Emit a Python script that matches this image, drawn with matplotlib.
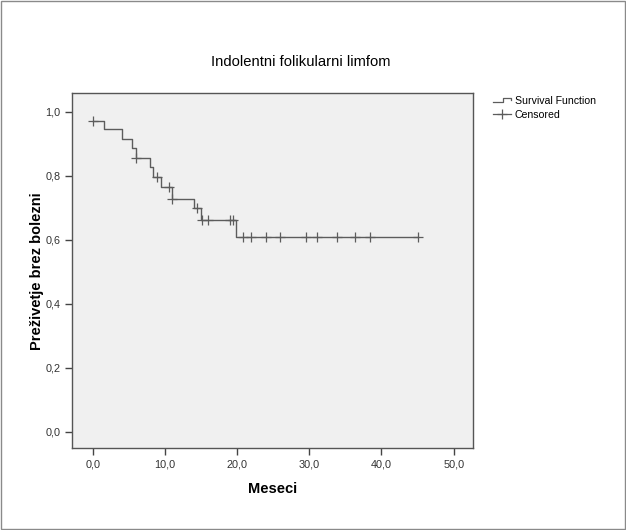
import numpy as np
import matplotlib.pyplot as plt
from matplotlib.lines import Line2D
from matplotlib.legend_handler import HandlerBase
from matplotlib.patches import Rectangle

plt.rcParams['font.family'] = ['Liberation Sans', 'DejaVu Sans']

# Kaplan-Meier step function
event_times = [0.0, 1.5, 4.0, 5.4, 6.0, 7.9, 8.4, 9.5, 11.0, 14.0, 15.0, 19.9, 45.0]
event_surv = [0.972, 0.945, 0.916, 0.886, 0.856, 0.826, 0.797, 0.764, 0.729, 0.698, 0.662, 0.609, 0.609]

# censored cases
censor_times = [0.0, 6.0, 8.9, 10.6, 11.0, 14.5, 15.1, 15.9, 19.0, 19.5,
                20.8, 21.9, 24.0, 25.9, 29.5, 31.0, 33.9, 36.4, 38.4, 45.0]

xticks = [0, 10, 20, 30, 40, 50]
xticklabels = ['0,0', '10,0', '20,0', '30,0', '40,0', '50,0']
yticks = [0.0, 0.2, 0.4, 0.6, 0.8, 1.0]
yticklabels = ['0,0', '0,2', '0,4', '0,6', '0,8', '1,0']

line_col = '#5c5c5c'

# level of the curve at each censored time (after any drop at that time)
idx = np.searchsorted(event_times, censor_times, side='right') - 1
censor_surv = np.array(event_surv)[idx]


class StepHandler(HandlerBase):
    def create_artists(self, legend, orig_handle, xdescent, ydescent,
                       width, height, fontsize, trans):
        x0 = -xdescent
        y0 = -ydescent
        xs = [x0, x0 + 0.55 * width, x0 + 0.55 * width, x0 + width, x0 + width]
        ys = [y0 + 0.25 * height, y0 + 0.25 * height, y0 + 0.85 * height,
              y0 + 0.85 * height, y0 + 0.6 * height]
        ln = Line2D(xs, ys, color=orig_handle.get_color(), lw=0.9)
        ln.set_transform(trans)
        return [ln]


fig = plt.figure(figsize=(6.26, 5.30), dpi=100)
fig.patches.append(Rectangle((0.001, 0.001), 0.997, 0.997, transform=fig.transFigure,
                             fill=False, edgecolor='#8a8a8a', lw=1.0))

ax = fig.add_axes([0.1155, 0.1547, 0.640, 0.669])
ax.set_facecolor('#f0f0f0')

ax.step(event_times, event_surv, where='post', color=line_col, lw=1.0)
ax.plot(censor_times, censor_surv, ls='none', marker='+', ms=7, mew=0.9, color=line_col)

ax.set_xlim(-2.83, 52.67)
ax.set_ylim(-0.051, 1.0575)
ax.set_xticks(xticks)
ax.set_xticklabels(xticklabels)
ax.set_yticks(yticks)
ax.set_yticklabels(yticklabels)
ax.tick_params(direction='out', length=5, width=1, colors='#444444',
               labelsize=7.8, labelcolor='#333333')
for s in ax.spines.values():
    s.set_color('#555555')
    s.set_linewidth(1.0)

ax.set_xlabel('Meseci', fontsize=10.5, fontweight='bold', labelpad=9)
ax.set_ylabel('Preživetje brez bolezni', fontsize=10.5, fontweight='bold', labelpad=1)

fig.text(301 / 626, 1 - 62 / 530, 'Indolentni folikularni limfom',
         ha='center', va='center', fontsize=10.6)

h1 = Line2D([], [], color=line_col)
h2 = Line2D([], [], color=line_col, marker='+', ms=7, mew=0.9, lw=0.9)
fig.legend([h1, h2], ['Survival Function', 'Censored'],
           handler_map={h1: StepHandler()},
           loc='upper left', bbox_to_anchor=(493 / 626, 1 - 96 / 530),
           frameon=False, fontsize=7.6, handlelength=1.7, handletextpad=0.35,
           labelspacing=0.35, borderaxespad=0, borderpad=0)

fig.savefig('out.png', dpi=100)
